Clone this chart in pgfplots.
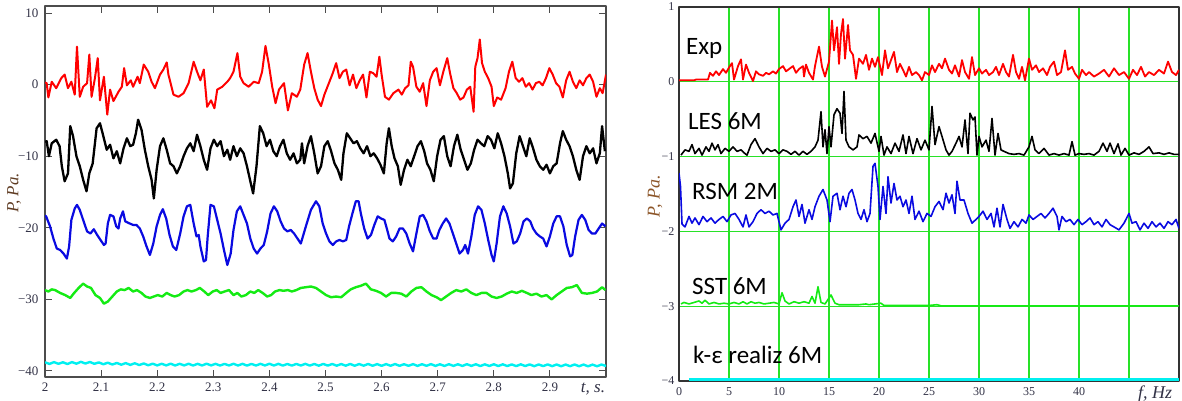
\documentclass[border=0pt]{standalone}
\usepackage{fontspec}
\setmainfont{Liberation Serif}
\newfontfamily\calfont{Carlito}
\usepackage{pgfplots}
\pgfplotsset{compat=1.18}
\definecolor{cRed}{RGB}{255,0,0}
\definecolor{cBlue}{RGB}{10,10,225}
\definecolor{cGreen}{RGB}{20,235,20}
\definecolor{cCyan}{RGB}{0,240,240}
\definecolor{cGrid}{RGB}{40,225,40}
\definecolor{cTick}{RGB}{50,50,70}
\definecolor{cLab}{RGB}{95,60,35}
\definecolor{cLab2}{RGB}{140,85,40}
\begin{document}
\begin{tikzpicture}[x=1pt,y=1pt]
\useasboundingbox (0pt,0pt) rectangle (1182pt,401pt);
% ---------------- left panel ----------------
\begin{axis}[at={(45pt,24pt)}, anchor=south west, scale only axis,
  width=561pt, height=371pt,
  xmin=2, xmax=3, ymin=-40.84, ymax=10.98,
  xtick={2,2.1,2.2,2.3,2.4,2.5,2.6,2.7,2.8,2.9,3},
  xticklabels={2,2.1,2.2,2.3,2.4,2.5,2.6,2.7,2.8,2.9,{}},
  ytick={-40,-30,-20,-10,0,10},
  yticklabels={−40,−30,−20,−10,0,10},
  tick align=inside, major tick length=7pt,
  tick style={black!70, line width=1pt},
  axis line style={black!70, line width=1.3pt},
  ticklabel style={font=\fontsize{13}{13}\selectfont, text=cTick},
  xticklabel style={yshift=-2pt},
  yticklabel style={xshift=-3pt},
  line join=round,
  clip=true]
\addplot[cRed, line width=2pt] coordinates {
(2.000,0.3)(2.003,0.2)(2.006,-1.8)(2.012,0.4)(2.020,-0.5)(2.029,0.9)(2.035,1.4)(2.041,-0.5)(2.047,0.4)(2.053,-1.4)(2.057,5.3)(2.062,-1.7)(2.068,-0.3)(2.075,0.2)(2.079,4.2)(2.083,-1.7)(2.089,0.9)(2.094,3.7)(2.098,-2.2)(2.105,1.1)(2.111,-4.2)(2.116,-0.7)(2.122,-2.3)(2.131,-1.0)(2.137,-0.3)(2.141,2.3)(2.146,-0.1)(2.153,0.6)(2.157,-0.3)(2.165,1.1)(2.169,0.2)(2.176,2.8)(2.184,1.8)(2.190,0.4)(2.196,-0.5)(2.205,1.4)(2.211,2.1)(2.217,3.1)(2.220,1.4)(2.229,-1.4)(2.238,-1.7)(2.247,-1.2)(2.256,0.2)(2.265,3.2)(2.271,1.8)(2.277,0.6)(2.283,2.1)(2.289,-3.1)(2.296,-2.2)(2.302,-3.3)(2.307,-0.7)(2.316,-0.3)(2.325,0.4)(2.330,0.9)(2.336,1.8)(2.343,4.4)(2.348,1.1)(2.354,0.2)(2.363,-0.3)(2.372,0.4)(2.381,0.2)(2.387,1.8)(2.393,5.4)(2.399,2.8)(2.405,-0.3)(2.411,-2.6)(2.417,-0.7)(2.426,0.2)(2.433,-3.6)(2.440,-1.2)(2.449,-1.7)(2.455,-0.7)(2.462,2.8)(2.468,4.4)(2.474,1.8)(2.480,-0.5)(2.486,-2.1)(2.492,-3.0)(2.498,-1.4)(2.507,0.4)(2.513,1.6)(2.519,3.0)(2.525,0.9)(2.531,1.8)(2.537,2.1)(2.543,-0.1)(2.549,1.4)(2.555,-0.5)(2.561,0.6)(2.567,1.4)(2.573,-1.8)(2.579,1.8)(2.585,1.6)(2.591,1.1)(2.596,3.9)(2.600,1.4)(2.606,-1.7)(2.613,-2.1)(2.621,-1.2)(2.630,-0.7)(2.636,-1.4)(2.642,-0.5)(2.648,-0.1)(2.652,3.2)(2.656,2.5)(2.662,-0.3)(2.668,-1.0)(2.674,0.2)(2.680,-3.0)(2.686,0.6)(2.692,1.8)(2.698,2.3)(2.704,-0.1)(2.710,1.8)(2.717,3.7)(2.722,1.6)(2.728,-0.5)(2.734,-1.2)(2.740,-2.1)(2.746,-1.8)(2.752,-0.7)(2.758,-0.3)(2.764,-3.8)(2.767,2.5)(2.771,3.7)(2.775,6.3)(2.779,3.0)(2.784,1.8)(2.790,0.9)(2.796,-0.3)(2.800,-3.0)(2.806,-1.8)(2.813,-2.1)(2.821,-0.5)(2.827,1.8)(2.833,3.2)(2.839,0.9)(2.845,0.4)(2.851,0.9)(2.857,-0.3)(2.863,0.2)(2.869,-0.7)(2.875,0.2)(2.881,0.4)(2.887,-0.1)(2.893,0.9)(2.899,2.3)(2.905,1.4)(2.911,0.2)(2.917,-0.3)(2.923,-1.8)(2.929,0.6)(2.935,1.8)(2.941,0.4)(2.947,-0.5)(2.953,0.6)(2.959,-0.1)(2.965,0.9)(2.971,1.4)(2.977,0.4)(2.983,-1.7)(2.989,-0.5)(2.994,-1.2)(3.000,1.4)};
\addplot[black, line width=2.3pt] coordinates {
(2.000,-8.0)(2.003,-7.9)(2.007,-10.0)(2.012,-8.2)(2.020,-7.7)(2.026,-8.6)(2.030,-11.4)(2.035,-13.5)(2.041,-12.4)(2.045,-5.8)(2.050,-7.2)(2.056,-10.0)(2.062,-11.4)(2.068,-13.3)(2.074,-14.9)(2.079,-12.4)(2.085,-11.0)(2.092,-6.1)(2.098,-5.4)(2.104,-7.2)(2.110,-9.1)(2.116,-8.4)(2.122,-10.3)(2.128,-9.3)(2.134,-11.0)(2.140,-8.9)(2.146,-7.5)(2.152,-8.6)(2.157,-8.4)(2.162,-6.8)(2.166,-4.9)(2.172,-6.3)(2.178,-9.1)(2.184,-11.4)(2.190,-13.3)(2.194,-15.9)(2.199,-11.9)(2.205,-8.6)(2.211,-7.5)(2.217,-9.1)(2.223,-11.0)(2.229,-11.4)(2.235,-12.4)(2.241,-11.4)(2.247,-10.0)(2.253,-8.9)(2.259,-8.2)(2.265,-9.3)(2.271,-7.0)(2.277,-8.6)(2.283,-10.5)(2.289,-11.9)(2.295,-8.9)(2.301,-7.7)(2.307,-8.6)(2.313,-7.9)(2.319,-10.0)(2.325,-9.1)(2.330,-10.5)(2.336,-8.6)(2.342,-10.0)(2.348,-8.9)(2.354,-9.6)(2.360,-11.4)(2.366,-13.5)(2.371,-15.2)(2.377,-11.4)(2.383,-5.8)(2.389,-6.8)(2.395,-8.6)(2.401,-7.7)(2.407,-9.3)(2.413,-10.0)(2.419,-8.6)(2.425,-7.7)(2.431,-9.6)(2.437,-10.5)(2.443,-9.6)(2.449,-11.0)(2.455,-10.5)(2.458,-8.2)(2.462,-11.0)(2.468,-8.6)(2.474,-7.2)(2.480,-9.6)(2.486,-12.4)(2.492,-11.4)(2.498,-8.6)(2.504,-7.9)(2.510,-9.3)(2.516,-11.0)(2.522,-11.9)(2.528,-13.3)(2.532,-9.6)(2.538,-6.8)(2.544,-7.5)(2.550,-8.2)(2.556,-7.9)(2.562,-8.9)(2.568,-9.6)(2.574,-8.6)(2.580,-10.0)(2.586,-9.6)(2.592,-10.3)(2.598,-11.2)(2.604,-12.4)(2.609,-8.2)(2.613,-6.1)(2.618,-8.6)(2.623,-10.3)(2.629,-11.4)(2.634,-14.0)(2.640,-11.9)(2.646,-10.5)(2.652,-11.4)(2.658,-10.0)(2.664,-8.6)(2.670,-7.9)(2.676,-9.3)(2.681,-11.0)(2.687,-11.9)(2.693,-13.5)(2.699,-10.0)(2.705,-7.7)(2.711,-7.2)(2.717,-10.0)(2.723,-11.4)(2.729,-8.6)(2.735,-7.0)(2.741,-9.1)(2.747,-10.5)(2.753,-11.9)(2.759,-11.0)(2.765,-9.1)(2.771,-7.7)(2.777,-8.2)(2.783,-8.6)(2.789,-7.2)(2.795,-7.7)(2.801,-8.9)(2.807,-6.8)(2.813,-8.2)(2.819,-10.0)(2.825,-12.4)(2.829,-14.5)(2.834,-13.8)(2.840,-9.6)(2.846,-7.2)(2.852,-8.6)(2.858,-10.0)(2.864,-7.5)(2.870,-8.9)(2.876,-10.5)(2.882,-11.4)(2.888,-11.9)(2.894,-11.2)(2.900,-12.4)(2.906,-11.4)(2.912,-11.0)(2.918,-8.2)(2.923,-6.5)(2.929,-7.7)(2.935,-8.6)(2.941,-10.0)(2.947,-11.9)(2.953,-13.3)(2.959,-10.0)(2.965,-8.6)(2.971,-9.6)(2.977,-8.9)(2.983,-11.0)(2.989,-9.6)(2.993,-5.8)(2.998,-9.3)};
\addplot[cBlue, line width=2.2pt] coordinates {
(2.000,-18.3)(2.002,-18.4)(2.009,-19.8)(2.015,-21.5)(2.021,-22.9)(2.027,-23.1)(2.033,-23.6)(2.039,-24.3)(2.043,-22.6)(2.047,-18.9)(2.053,-17.3)(2.057,-16.8)(2.062,-17.5)(2.068,-18.9)(2.075,-20.5)(2.081,-20.8)(2.087,-20.2)(2.093,-21.0)(2.099,-21.7)(2.105,-22.4)(2.108,-22.2)(2.112,-19.4)(2.116,-18.2)(2.122,-18.4)(2.127,-19.8)(2.131,-20.1)(2.134,-18.7)(2.139,-17.7)(2.143,-19.1)(2.151,-19.4)(2.157,-19.6)(2.163,-19.6)(2.169,-20.1)(2.175,-21.2)(2.181,-22.6)(2.187,-23.8)(2.193,-22.2)(2.199,-19.8)(2.205,-18.2)(2.210,-17.4)(2.216,-18.7)(2.222,-21.0)(2.228,-22.6)(2.234,-23.1)(2.241,-20.8)(2.247,-18.4)(2.253,-17.0)(2.259,-16.8)(2.265,-19.4)(2.270,-21.2)(2.274,-21.0)(2.277,-22.6)(2.283,-24.7)(2.287,-24.5)(2.290,-21.2)(2.295,-16.8)(2.301,-17.0)(2.307,-18.9)(2.313,-20.8)(2.319,-23.1)(2.325,-25.2)(2.331,-23.6)(2.336,-20.3)(2.342,-17.7)(2.348,-17.0)(2.354,-18.2)(2.360,-19.4)(2.366,-21.5)(2.372,-22.9)(2.378,-23.6)(2.384,-22.9)(2.390,-22.4)(2.396,-20.5)(2.402,-18.0)(2.408,-17.0)(2.414,-17.7)(2.420,-19.1)(2.426,-20.1)(2.432,-20.5)(2.438,-20.3)(2.444,-20.8)(2.450,-21.5)(2.456,-22.2)(2.465,-19.8)(2.474,-17.5)(2.483,-16.3)(2.489,-17.0)(2.495,-19.4)(2.501,-20.8)(2.507,-21.9)(2.513,-22.4)(2.519,-21.9)(2.525,-21.7)(2.531,-21.9)(2.537,-21.7)(2.542,-19.8)(2.548,-18.0)(2.554,-16.3)(2.559,-16.3)(2.563,-18.0)(2.569,-20.1)(2.575,-21.5)(2.581,-21.0)(2.587,-19.6)(2.593,-18.4)(2.599,-18.7)(2.605,-18.9)(2.610,-20.3)(2.614,-21.5)(2.620,-21.9)(2.626,-21.2)(2.632,-20.1)(2.638,-20.1)(2.644,-20.8)(2.650,-22.2)(2.656,-23.3)(2.662,-20.8)(2.668,-18.4)(2.674,-18.2)(2.680,-19.1)(2.686,-20.5)(2.692,-21.5)(2.698,-21.5)(2.703,-20.3)(2.709,-19.4)(2.715,-18.7)(2.721,-19.4)(2.727,-20.8)(2.733,-22.2)(2.739,-23.6)(2.745,-23.1)(2.749,-22.4)(2.754,-23.6)(2.760,-21.2)(2.766,-18.2)(2.772,-17.0)(2.778,-17.5)(2.784,-19.4)(2.790,-21.7)(2.796,-23.8)(2.800,-24.7)(2.805,-22.2)(2.811,-18.4)(2.817,-17.0)(2.823,-18.0)(2.829,-19.8)(2.835,-22.2)(2.841,-21.9)(2.847,-20.8)(2.853,-19.1)(2.859,-18.7)(2.865,-19.1)(2.870,-20.1)(2.876,-20.8)(2.882,-21.2)(2.888,-21.5)(2.894,-22.6)(2.900,-21.2)(2.906,-19.4)(2.912,-18.4)(2.918,-18.4)(2.924,-19.8)(2.930,-22.4)(2.936,-24.0)(2.940,-23.8)(2.945,-21.2)(2.951,-18.9)(2.957,-18.2)(2.963,-18.9)(2.969,-20.3)(2.975,-20.8)(2.981,-20.8)(2.987,-20.1)(2.993,-19.4)(2.999,-19.8)};
\addplot[cGreen, line width=2.4pt] coordinates {
(2.000,-28.7)(2.006,-28.9)(2.012,-28.6)(2.018,-28.7)(2.027,-29.1)(2.036,-29.4)(2.045,-29.8)(2.052,-29.1)(2.060,-28.4)(2.068,-27.8)(2.075,-28.2)(2.082,-28.4)(2.090,-29.4)(2.098,-29.8)(2.105,-30.6)(2.112,-30.3)(2.120,-29.6)(2.128,-28.9)(2.135,-28.6)(2.142,-28.7)(2.149,-28.4)(2.157,-28.9)(2.164,-28.7)(2.172,-29.1)(2.179,-29.6)(2.187,-29.8)(2.194,-29.6)(2.201,-29.4)(2.209,-29.6)(2.217,-29.1)(2.224,-29.4)(2.231,-29.6)(2.239,-29.4)(2.247,-28.9)(2.254,-28.7)(2.261,-28.9)(2.269,-28.7)(2.276,-28.4)(2.284,-28.9)(2.291,-29.4)(2.299,-28.9)(2.306,-28.7)(2.313,-29.1)(2.320,-28.9)(2.328,-28.7)(2.336,-29.4)(2.343,-29.1)(2.350,-29.6)(2.358,-29.4)(2.366,-28.9)(2.373,-29.1)(2.380,-28.7)(2.388,-29.1)(2.396,-29.6)(2.403,-29.4)(2.410,-28.9)(2.418,-28.7)(2.425,-28.8)(2.433,-28.7)(2.440,-28.9)(2.448,-28.7)(2.456,-28.4)(2.465,-28.3)(2.474,-28.2)(2.483,-28.4)(2.492,-28.9)(2.501,-29.4)(2.510,-29.7)(2.519,-29.6)(2.528,-29.7)(2.537,-29.1)(2.545,-28.6)(2.554,-28.3)(2.563,-28.1)(2.572,-27.8)(2.581,-28.6)(2.590,-28.8)(2.599,-29.1)(2.608,-29.6)(2.617,-29.1)(2.626,-29.1)(2.635,-29.2)(2.644,-29.6)(2.653,-28.9)(2.662,-28.4)(2.671,-28.3)(2.680,-28.9)(2.689,-29.4)(2.698,-29.7)(2.706,-30.1)(2.715,-29.6)(2.724,-29.1)(2.733,-28.7)(2.742,-28.9)(2.751,-28.6)(2.760,-29.1)(2.769,-29.4)(2.778,-29.1)(2.787,-29.1)(2.796,-29.6)(2.805,-29.8)(2.814,-29.6)(2.823,-29.2)(2.832,-28.9)(2.841,-29.1)(2.850,-28.8)(2.859,-29.1)(2.867,-29.4)(2.876,-29.2)(2.885,-29.6)(2.894,-29.4)(2.903,-30.0)(2.912,-29.4)(2.921,-28.9)(2.930,-28.4)(2.939,-28.3)(2.948,-28.0)(2.957,-29.1)(2.966,-29.2)(2.975,-29.1)(2.984,-28.9)(2.993,-28.3)(2.999,-28.7)};
\addplot[cCyan, line width=2.4pt] coordinates {
(2.000,-38.78)(2.008,-39.02)(2.016,-38.76)(2.024,-39.00)(2.032,-38.78)(2.040,-39.03)(2.048,-38.76)(2.056,-38.98)(2.064,-38.72)(2.072,-38.96)(2.080,-38.74)(2.088,-39.00)(2.096,-38.80)(2.104,-39.06)(2.112,-38.84)(2.120,-39.10)(2.128,-38.88)(2.136,-39.12)(2.144,-38.90)(2.152,-39.15)(2.160,-38.92)(2.168,-39.17)(2.176,-38.95)(2.184,-39.20)(2.192,-38.98)(2.200,-39.22)(2.208,-38.99)(2.216,-39.22)(2.224,-38.98)(2.232,-39.23)(2.240,-39.00)(2.248,-39.22)(2.256,-38.99)(2.264,-39.24)(2.272,-39.00)(2.280,-39.23)(2.288,-38.98)(2.296,-39.22)(2.304,-39.00)(2.312,-39.24)(2.320,-39.01)(2.328,-39.23)(2.336,-38.99)(2.344,-39.24)(2.352,-39.00)(2.360,-39.25)(2.368,-39.01)(2.376,-39.24)(2.384,-39.00)(2.392,-39.23)(2.400,-38.99)(2.408,-39.24)(2.416,-39.00)(2.424,-39.25)(2.432,-39.02)(2.440,-39.25)(2.448,-39.01)(2.456,-39.24)(2.464,-39.00)(2.472,-39.25)(2.480,-39.02)(2.488,-39.26)(2.496,-39.01)(2.504,-39.25)(2.512,-39.02)(2.520,-39.26)(2.528,-39.03)(2.536,-39.26)(2.544,-39.02)(2.552,-39.27)(2.560,-39.03)(2.568,-39.26)(2.576,-39.02)(2.584,-39.27)(2.592,-39.04)(2.600,-39.28)(2.608,-39.04)(2.616,-39.27)(2.624,-39.03)(2.632,-39.28)(2.640,-39.05)(2.648,-39.28)(2.656,-39.04)(2.664,-39.29)(2.672,-39.05)(2.680,-39.28)(2.688,-39.04)(2.696,-39.29)(2.704,-39.06)(2.712,-39.30)(2.720,-39.05)(2.728,-39.29)(2.736,-39.06)(2.744,-39.30)(2.752,-39.05)(2.760,-39.29)(2.768,-39.06)(2.776,-39.31)(2.784,-39.07)(2.792,-39.30)(2.800,-39.06)(2.808,-39.31)(2.816,-39.07)(2.824,-39.31)(2.832,-39.08)(2.840,-39.32)(2.848,-39.07)(2.856,-39.31)(2.864,-39.08)(2.872,-39.33)(2.880,-39.09)(2.888,-39.32)(2.896,-39.08)(2.904,-39.33)(2.912,-39.09)(2.920,-39.34)(2.928,-39.10)(2.936,-39.33)(2.944,-39.09)(2.952,-39.34)(2.960,-39.10)(2.968,-39.35)(2.976,-39.11)(2.984,-39.34)(2.992,-39.10)(3.000,-39.30)};
\end{axis}
\node[rotate=90, font=\fontsize{17}{17}\selectfont\itshape, text=cLab] at (14pt,208pt) {P, Pa.};
\node[font=\fontsize{17}{17}\selectfont\itshape, text=cTick] at (593pt,12pt) {t, s.};
% ---------------- right panel ----------------
\begin{axis}[at={(679pt,20pt)}, anchor=south west, scale only axis,
  width=500pt, height=374pt,
  xmin=0, xmax=50, ymin=-4, ymax=1,
  xtick={0,5,10,15,20,25,30,35,40,45,50},
  xticklabels={0,5,10,15,20,25,30,35,40,{},{}},
  ytick={-4,-3,-2,-1,0,1},
  yticklabels={−4,−3,−2,−1,0,1},
  major tick length=0pt,
  grid=major, grid style={cGrid, line width=1.1pt},
  axis line style={black!80, line width=1.3pt},
  ticklabel style={font=\fontsize{12}{12}\selectfont, text=cTick},
  xticklabel style={yshift=-3pt},
  yticklabel style={xshift=-1pt},
  line join=round,
  clip=true]
\addplot[cRed, line width=1.8pt] coordinates {
(0,0.02)(1.5,0.02)(1.7,0.03)(2.9,0.03)(3.1,0.12)(3.4,0.08)(3.7,0.14)(4.0,0.09)(4.4,0.17)(4.7,0.12)(5.0,0.19)(5.3,0.25)(5.5,0.03)(5.9,0.21)(6.2,0.30)(6.4,0.03)(6.7,0.23)(7.0,0.12)(7.4,0.01)(7.7,0.14)(8.0,0.10)(8.4,0.08)(8.7,0.12)(9.0,0.10)(9.4,0.14)(9.7,0.11)(10.0,0.17)(10.4,0.21)(10.7,0.14)(11.0,0.17)(11.4,0.21)(11.7,0.12)(12.0,0.17)(12.4,0.21)(12.5,0.07)(12.7,0.23)(13.0,0.12)(13.4,0.03)(13.6,0.21)(14.0,0.47)(14.3,0.20)(14.6,0.07)(15.0,0.27)(15.3,0.82)(15.5,0.42)(15.8,0.73)(16.0,0.24)(16.2,0.64)(16.4,0.84)(16.6,0.31)(16.9,0.76)(17.1,0.42)(17.4,0.36)(17.7,0.04)(18.0,0.31)(18.4,0.24)(18.7,0.36)(19.0,0.16)(19.3,0.31)(19.6,0.20)(19.9,0.33)(20.3,0.09)(20.6,0.42)(20.9,0.18)(21.2,0.29)(21.5,0.40)(21.8,0.13)(22.1,0.24)(22.4,0.16)(22.7,0.07)(23.0,0.20)(23.3,0.09)(23.7,0.13)(24.0,0.09)(24.3,0.02)(24.6,0.13)(25.0,0.09)(25.3,0.22)(25.6,0.13)(26.0,0.24)(26.3,0.18)(26.6,0.31)(27.0,0.16)(27.3,0.11)(27.6,0.22)(28.0,0.07)(28.3,0.29)(28.6,0.13)(29.0,0.04)(29.3,0.33)(29.6,0.09)(30.0,0.18)(30.3,0.11)(30.7,0.16)(31.0,0.09)(31.4,0.13)(31.7,0.20)(32.0,0.09)(32.4,0.24)(32.7,0.13)(33.0,0.07)(33.4,0.36)(33.7,0.13)(34.0,0.04)(34.3,0.20)(34.6,0.02)(35.0,0.31)(35.3,0.16)(35.7,0.22)(36.0,0.13)(36.4,0.18)(36.8,0.09)(37.1,0.20)(37.5,0.27)(37.8,0.09)(38.2,0.13)(38.6,0.42)(38.9,0.16)(39.3,0.20)(39.6,0.11)(40.0,0.04)(40.3,0.16)(40.7,0.09)(41.0,0.13)(41.5,0.07)(42.0,0.11)(42.5,0.16)(43.0,0.07)(43.5,0.18)(44.0,0.09)(44.5,0.13)(45.0,0.04)(45.4,0.16)(45.8,0.09)(46.2,0.20)(46.6,0.07)(47.0,0.13)(47.5,0.09)(48.0,0.16)(48.5,0.11)(48.9,0.27)(49.3,0.13)(49.7,0.09)(50.0,0.16)};
\addplot[black, line width=1.6pt] coordinates {
(0.2,-0.98)(0.6,-0.91)(1.0,-0.93)(1.3,-0.84)(1.6,-0.96)(2.0,-0.89)(2.3,-0.98)(2.7,-0.87)(3.0,-0.93)(3.3,-0.82)(3.6,-0.91)(3.9,-0.84)(4.2,-0.96)(4.6,-0.89)(5.0,-0.93)(5.4,-0.87)(5.8,-0.93)(6.2,-0.91)(6.6,-0.96)(6.8,-0.98)(7.2,-0.84)(7.6,-0.76)(8.0,-0.87)(8.4,-0.96)(8.8,-0.89)(9.2,-0.93)(9.6,-0.91)(10.0,-0.96)(10.4,-0.91)(10.8,-0.93)(11.2,-0.97)(11.6,-0.93)(12.0,-0.98)(12.4,-0.93)(12.8,-0.97)(13.2,-0.93)(13.6,-0.87)(13.9,-0.78)(14.2,-0.40)(14.4,-0.87)(14.6,-0.64)(14.8,-0.96)(15.0,-0.60)(15.2,-0.87)(15.5,-0.44)(15.8,-0.36)(16.1,-0.42)(16.3,-0.69)(16.5,-0.13)(16.7,-0.78)(17.0,-0.87)(17.4,-0.91)(17.8,-0.87)(18.0,-0.71)(18.4,-0.76)(18.8,-0.73)(19.2,-0.82)(19.6,-0.69)(20.0,-0.93)(20.2,-0.73)(20.5,-0.98)(20.8,-0.87)(21.2,-0.96)(21.6,-0.82)(22.0,-0.93)(22.4,-0.71)(22.7,-0.96)(23.0,-0.73)(23.4,-0.96)(23.8,-0.76)(24.2,-0.91)(24.6,-0.78)(25.0,-0.91)(25.3,-0.33)(25.6,-0.84)(26.0,-0.60)(26.3,-0.73)(26.7,-0.91)(27.0,-0.98)(27.3,-0.93)(27.7,-0.82)(28.0,-0.73)(28.3,-0.87)(28.6,-0.51)(28.9,-0.96)(29.1,-0.42)(29.4,-0.51)(29.6,-0.47)(29.8,-0.98)(30.0,-0.73)(30.3,-0.87)(30.7,-0.78)(31.0,-0.93)(31.3,-0.49)(31.6,-0.98)(31.9,-0.69)(32.2,-0.91)(32.5,-0.93)(33.0,-0.96)(33.5,-0.97)(34.0,-0.96)(34.5,-0.98)(35.0,-0.87)(35.3,-0.73)(35.6,-0.91)(36.0,-0.96)(36.5,-0.89)(37.0,-0.98)(37.5,-0.96)(38.0,-0.98)(38.5,-0.96)(39.0,-0.98)(39.3,-0.80)(39.6,-0.98)(40.0,-0.96)(40.5,-0.97)(41.0,-0.96)(41.5,-0.98)(42.0,-0.93)(42.4,-0.82)(42.8,-0.93)(43.1,-0.82)(43.5,-0.96)(43.9,-0.83)(44.2,-0.98)(44.6,-0.89)(45.0,-0.98)(45.5,-0.95)(46.0,-0.97)(46.5,-0.93)(47.0,-0.87)(47.4,-0.96)(48.0,-0.95)(48.5,-0.97)(49.0,-0.95)(49.5,-0.97)(50.0,-0.97)};
\addplot[cBlue, line width=1.6pt] coordinates {
(0.0,-1.22)(0.15,-1.40)(0.3,-1.90)(0.6,-1.94)(1.0,-1.80)(1.3,-1.89)(1.6,-1.82)(2.0,-1.91)(2.4,-1.80)(2.8,-1.87)(3.2,-1.82)(3.6,-1.89)(4.0,-1.84)(4.4,-1.80)(4.8,-1.87)(5.2,-1.78)(5.6,-1.76)(6.0,-1.84)(6.4,-1.94)(6.7,-1.78)(7.0,-1.94)(7.4,-1.87)(7.8,-1.76)(8.2,-1.71)(8.6,-1.76)(9.0,-1.73)(9.4,-1.78)(9.8,-1.76)(10.2,-1.98)(10.6,-1.89)(11.0,-1.84)(11.4,-1.67)(11.7,-1.58)(12.0,-1.80)(12.3,-1.64)(12.6,-1.89)(13.0,-1.71)(13.3,-1.84)(13.6,-1.67)(14.0,-1.53)(14.4,-1.44)(14.8,-1.58)(15.1,-1.87)(15.4,-1.53)(15.8,-1.49)(16.1,-1.71)(16.4,-1.53)(16.7,-1.67)(17.0,-1.49)(17.3,-1.44)(17.6,-1.58)(17.9,-1.76)(18.2,-1.84)(18.5,-1.71)(18.8,-1.87)(19.1,-1.76)(19.4,-1.13)(19.6,-1.09)(19.9,-1.40)(20.1,-1.84)(20.4,-1.40)(20.7,-1.76)(20.9,-1.27)(21.2,-1.62)(21.5,-1.36)(21.8,-1.58)(22.1,-1.53)(22.4,-1.67)(22.7,-1.58)(23.0,-1.76)(23.3,-1.53)(23.6,-1.84)(24.0,-1.73)(24.4,-1.87)(24.8,-1.76)(25.2,-1.80)(25.6,-1.67)(26.0,-1.60)(26.4,-1.71)(26.7,-1.49)(27.0,-1.62)(27.3,-1.51)(27.6,-1.76)(27.8,-1.33)(28.1,-1.58)(28.5,-1.58)(28.9,-1.76)(29.3,-1.89)(29.7,-1.84)(30.0,-1.80)(30.4,-1.73)(30.8,-1.84)(31.2,-1.76)(31.5,-1.94)(31.8,-1.69)(32.1,-1.94)(32.4,-1.64)(32.8,-1.84)(33.1,-1.96)(33.5,-1.87)(33.9,-1.94)(34.3,-1.84)(34.7,-1.89)(35.0,-1.78)(35.4,-1.84)(35.8,-1.80)(36.2,-1.76)(36.6,-1.82)(37.0,-1.76)(37.4,-1.69)(37.8,-1.80)(38.0,-1.98)(38.3,-1.80)(38.7,-1.87)(39.1,-1.84)(39.5,-1.91)(39.9,-1.84)(40.3,-1.91)(40.7,-1.87)(41.1,-1.82)(41.5,-1.91)(41.9,-1.87)(42.3,-1.94)(42.7,-1.84)(43.1,-1.91)(43.5,-1.94)(44.0,-1.98)(44.5,-1.89)(45.0,-1.76)(45.3,-1.89)(45.7,-1.87)(46.1,-1.98)(46.5,-1.89)(46.9,-1.96)(47.3,-1.87)(47.7,-1.94)(48.1,-1.89)(48.5,-1.96)(48.9,-1.87)(49.3,-1.91)(49.7,-1.84)(50.0,-1.96)};
\addplot[cGreen, line width=1.6pt] coordinates {
(0.2,-2.97)(0.5,-2.95)(1.0,-2.97)(1.5,-2.95)(2.0,-2.93)(2.3,-2.96)(2.6,-2.92)(3.0,-2.97)(3.5,-2.95)(4.0,-2.97)(4.5,-2.96)(5.0,-2.97)(5.5,-2.95)(6.0,-2.97)(6.4,-2.94)(6.8,-2.97)(7.2,-2.94)(7.6,-2.96)(8.0,-2.95)(8.5,-2.97)(9.0,-2.96)(9.5,-2.95)(10.0,-2.97)(10.3,-2.82)(10.6,-2.93)(11.0,-2.97)(11.5,-2.94)(12.0,-2.96)(12.5,-2.94)(13.0,-2.96)(13.3,-2.87)(13.6,-2.96)(13.9,-2.74)(14.2,-2.95)(14.6,-2.97)(15.2,-2.85)(15.6,-2.96)(16.0,-2.98)(17.0,-2.98)(18.0,-2.98)(18.7,-2.97)(19.0,-2.98)(20.2,-2.96)(20.5,-2.99)(25.0,-2.99)(25.8,-2.98)(26.2,-2.995)(50.0,-2.995)};
\addplot[cCyan, line width=3pt] coordinates {(1.0,-3.985)(50,-3.985)};
\end{axis}
\node[rotate=90, font=\fontsize{18}{18}\selectfont\itshape, text=cLab2] at (655pt,205pt) {P, Pa.};
\node[font=\fontsize{18}{18}\selectfont\itshape, text=cTick] at (1155pt,7pt) {f, Hz};
\begin{scope}[every node/.style={anchor=base west, inner sep=0pt, font=\calfont\fontsize{25}{25}\selectfont}]
\node at (686pt,346pt) {Exp};
\node at (688pt,271pt) {LES 6M};
\node at (692pt,201pt) {RSM 2M};
\node at (692pt,106pt) {SST 6M};
\node at (693pt,37pt) {k-ε realiz 6M};
\end{scope}
\end{tikzpicture}
\end{document}
